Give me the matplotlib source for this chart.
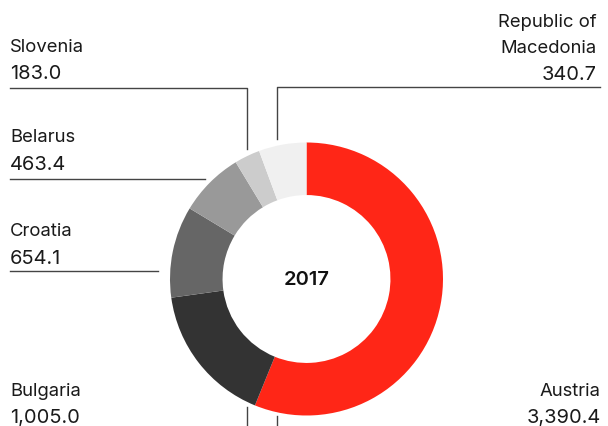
import matplotlib
matplotlib.use("Agg")
import matplotlib.pyplot as plt

countries = ["Austria", "Bulgaria", "Croatia", "Belarus", "Slovenia", "Republic of\nMacedonia"]
values = [3390.4, 1005.0, 654.1, 463.4, 183.0, 340.7]
colors = ["#ff2617", "#333333", "#666666", "#999999", "#cccccc", "#f0f0f0"]
year = "2017"

plt.rcParams['font.family'] = ['Inter', 'DejaVu Sans']

W, H = 608, 427
fig = plt.figure(figsize=(W / 100, H / 100), dpi=100)
ax = fig.add_axes([0, 0, 1, 1])

cx, cy = 306.5, H - 280
R = 136.5
ax.pie(values, colors=colors, startangle=90, counterclock=False,
       radius=R, center=(cx, cy), frame=True,
       wedgeprops=dict(width=R * 0.385, edgecolor='none'))
ax.set_xlim(0, W)
ax.set_ylim(0, H)
ax.set_aspect('equal')
ax.axis('off')

ax.text(cx, cy, year, ha='center', va='center', fontsize=14.5, fontweight='semibold', color='#111111')

def fmt(v):
    return f"{v:,.1f}"

tc = '#1a1a1a'
fs = 13.3
fsn = 14.4
lc = '#444444'
lw = 1.0

def y(v):
    return H - v

# Left labels: (index, name baseline, value baseline)
left = [(4, 51.7, 79.3), (3, 141.7, 170.0), (2, 236.0, 264.3), (1, 395.7, 423.0)]
for i, yb1, yb2 in left:
    ax.text(10, y(yb1), countries[i], ha='left', va='baseline', fontsize=fs, color=tc)
    ax.text(10, y(yb2), fmt(values[i]), ha='left', va='baseline', fontsize=fsn, color=tc)

# Right labels
mac_lines = countries[5].split("\n")
ax.text(597, y(26.7), mac_lines[0], ha='right', va='baseline', fontsize=fs, color=tc)
ax.text(597, y(53.3), mac_lines[1], ha='right', va='baseline', fontsize=fs, color=tc)
ax.text(597, y(80.0), fmt(values[5]), ha='right', va='baseline', fontsize=fsn, color=tc)
ax.text(601, y(395.7), countries[0], ha='right', va='baseline', fontsize=fs, color=tc)
ax.text(601, y(423.0), fmt(values[0]), ha='right', va='baseline', fontsize=fsn, color=tc)

# Leader lines
ax.plot([10, 246.5, 246.5], [y(89), y(89), y(150)], color=lc, lw=lw)
ax.plot([600, 277, 277], [y(88), y(88), y(140)], color=lc, lw=lw)
ax.plot([10, 205], [y(180), y(180)], color=lc, lw=lw)
ax.plot([10, 158], [y(272), y(272)], color=lc, lw=lw)
ax.plot([246.5, 246.5], [y(408), y(430)], color=lc, lw=lw)
ax.plot([277, 277], [y(417), y(430)], color=lc, lw=lw)

fig.savefig("out.png", dpi=100)
